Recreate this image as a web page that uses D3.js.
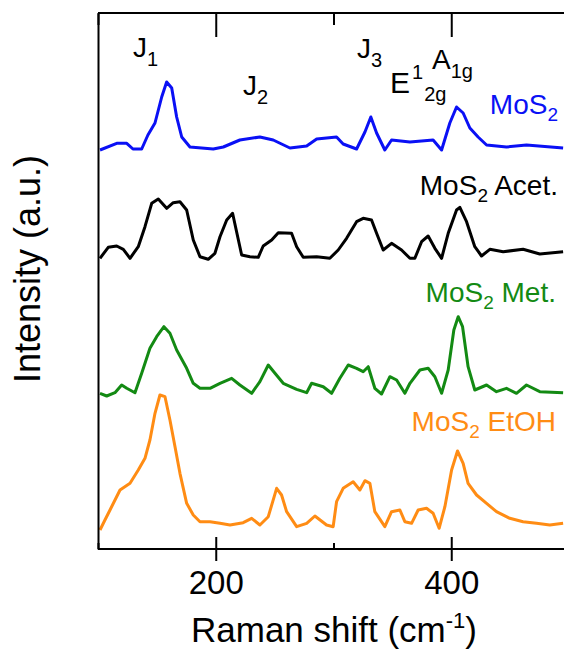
<!DOCTYPE html>
<html><head><meta charset="utf-8">
<script src="https://cdn.jsdelivr.net/npm/d3@7"></script>
<style>
html,body{margin:0;padding:0;background:#fff;}
svg{display:block;font-family:"Liberation Sans",Arial,sans-serif;}
</style></head>
<body><svg id="c" width="564" height="649"></svg>
<script>
// Raman shift (cm^-1) and intensity (a.u.) per sample
const mos2Shift=[101.7,115.9,124.4,129.7,137.1,142.4,148.4,154.1,158.3,162.6,166.8,171.1,178.1,197.9,206.4,220.5,237.5,248.8,263.0,277.2,285.7,302.6,308.2,319.6,326.7,331.7,336.6,343.6,349.3,364.9,384.6,391.8,398.8,404.5,410.1,415.8,422.8,430.0,446.9,463.9,495.0];
const mos2Int=[-1,5.7,5.7,0,0,14,26,52,67,61,32,12,2,0,2,9,12,9,1,3,10,12,5,0,17,32,16,-1,9,7,9,-1,26,42,36,21,12,4,2,4,1];
const acetShift=[101.7,108.7,115.9,121.5,127.2,134.2,139.9,145.6,151.2,158.3,163.9,169.6,175.3,180.9,186.6,193.6,199.3,203.6,209.3,214.3,217.7,222.0,229.0,236.1,240.3,247.5,253.1,264.4,268.7,274.3,285.7,296.9,304.0,311.1,319.6,325.2,332.3,336.6,342.2,349.3,357.8,364.9,369.1,374.8,380.4,386.1,391.8,397.4,404.5,407.3,413.0,420.0,425.7,432.8,444.1,461.0,475.2,495.0];
const acetInt=[0.7,11.7,13,9.7,0.7,12.3,32.3,55.7,60,50.7,56.3,57.3,49,19,2.3,-0.3,5.7,22.3,39,45.7,27.3,4,2.3,1.7,13,19,26.3,25.7,12.3,1.7,2.3,0.7,9,20.7,37.3,40.7,39,25.7,9,15.7,9,0.7,0.7,17.3,23,10.7,0.7,25.7,49,51.7,37.3,12.3,3,9.7,7.3,9.7,5,7.3];
const metShift=[101.7,107.4,114.4,120.1,124.4,131.4,137.1,144.1,149.8,156.0,161.1,166.8,175.3,180.9,186.6,195.1,203.6,213.5,220.5,230.5,237.5,244.6,250.3,257.3,268.7,277.2,281.4,291.3,298.4,305.4,312.5,319.6,325.2,329.5,335.1,340.8,347.9,353.6,360.6,364.9,373.4,380.4,386.1,391.8,397.4,402.2,405.9,409.6,414.3,420.0,430.0,438.4,446.9,455.4,463.9,475.2,495.0];
const metInt=[0.7,-2,1.3,9,5.7,1.3,20.7,45.7,57.3,67.3,60.7,44,25.7,10.7,5.7,5.7,10.7,15.7,9,0.7,12.3,29,20.7,10.7,4.7,1.3,10.7,7.3,0.7,15.7,29,25.7,22.3,27.3,5.7,0,17.3,14,0.7,10.7,24,25.7,17.3,0.7,24,64,77.3,67.3,27.3,4,9,2.3,5.7,0.7,9,2.3,1.3];
const etohShift=[101.7,105.9,110.2,118.7,127.2,134.2,139.9,144.1,148.4,152.6,156.9,161.1,165.4,169.6,175.3,180.9,186.6,195.1,203.6,212.1,223.3,230.5,237.5,244.6,251.7,255.9,260.2,268.7,277.2,284.2,294.1,299.7,302.6,308.2,316.7,322.4,326.7,330.9,335.1,343.6,349.3,356.4,360.6,366.3,371.9,379.0,384.6,389.7,394.6,400.3,405.3,410.1,414.3,421.5,430.0,438.4,449.7,461.0,472.4,483.7,495.0];
const etohInt=[-3,7,17,37,43.7,57,68.7,87,113.7,132,130.3,107,80.3,53.7,23.7,12,5.3,5.3,3.7,2,4.3,8.7,2,10.3,38.7,32,15.3,0.3,3.7,11,2,0.3,25.3,38.7,45.3,37,46.3,43.7,15.3,0.3,15.3,17,5.3,3.7,17,18.7,13.7,-1.3,20.3,57,76,63.7,43.7,32,23.7,15.3,8.7,5.3,3.7,2,3.7];

const seriesNames=["MoS2","MoS2 Acet.","MoS2 Met.","MoS2 EtOH"];
const seriesColors=["#0a10f5","#000000","#138a13","#ff8c14"];
const offsets=[400,290,155,22];
const majorTicks=[200,400];
const minorTicks=[100,300,500];

(function(){
const W=564;
const pL=98,pT=13,pB=549,pR=569;
const svg=d3.select("#c");
const x=d3.scaleLinear().domain([100,500]).range([pL,pR]);
const y=d3.scaleLinear().domain([0,536]).range([pB,pT]);

const series=[
  {s:mos2Shift,v:mos2Int},{s:acetShift,v:acetInt},{s:metShift,v:metInt},{s:etohShift,v:etohInt}
];
const line=d3.line().x(d=>x(d[0])).y(d=>y(d[1]));
series.forEach((sr,i)=>{
  const pts=sr.s.map((s,k)=>[s,sr.v[k]+offsets[i]]);
  svg.append("path").attr("d",line(pts)).attr("fill","none")
    .attr("stroke",seriesColors[i]).attr("stroke-width",3).attr("stroke-linejoin","round");
});

// axes
const gb=svg.append("g").attr("transform",`translate(0,${pB})`)
  .call(d3.axisBottom(x).tickValues(majorTicks).tickSize(12).tickPadding(10).tickFormat(d=>d));
const gbi=svg.append("g").attr("transform",`translate(0,${pB})`)
  .call(d3.axisTop(x).tickValues(majorTicks).tickSize(12).tickFormat(""));
const gbm=svg.append("g").attr("transform",`translate(0,${pB})`)
  .call(d3.axisTop(x).tickValues(minorTicks).tickSize(6).tickFormat(""));
const gt=svg.append("g").attr("transform",`translate(0,${pT})`)
  .call(d3.axisBottom(x).tickValues(majorTicks).tickSize(24).tickFormat(""));
const gtm=svg.append("g").attr("transform",`translate(0,${pT})`)
  .call(d3.axisBottom(x).tickValues(minorTicks).tickSize(12).tickFormat(""));
const gl=svg.append("g").attr("transform",`translate(${pL},0)`)
  .call(d3.axisLeft(y).tickValues([]).tickSizeOuter(0));
[gb,gbi,gbm,gt,gtm,gl].forEach(g=>{
  g.selectAll("path,line").attr("stroke","#000").attr("stroke-width",2);
});
[gbi,gbm,gt,gtm].forEach(g=>g.select(".domain").remove());
gt.append("line").attr("x1",pL).attr("x2",W).attr("y1",0).attr("y2",0).attr("stroke","#000").attr("stroke-width",2);
gb.select(".domain").attr("d",`M${pL},0H${W}`);
gb.selectAll("text").attr("font-size",33).attr("fill","#000").attr("font-family","Liberation Sans, Arial, sans-serif");

// axis titles
const xt=svg.append("text").attr("x",334).attr("y",642).attr("text-anchor","middle").attr("font-size",35).attr("fill","#000");
xt.append("tspan").text("Raman shift (cm");
xt.append("tspan").attr("font-size",22).attr("dy",-14).text("-1");
xt.append("tspan").attr("dy",14).text(")");
svg.append("text").attr("transform","translate(40,269) rotate(-90)").attr("text-anchor","middle")
  .attr("font-size",36).attr("fill","#000").text("Intensity (a.u.)");

// series labels
const labelPos=[[558,114],[558,195],[556,302],[556,431]];
seriesNames.forEach((n,i)=>{
  const t=svg.append("text").attr("x",labelPos[i][0]).attr("y",labelPos[i][1]).attr("text-anchor","end")
    .attr("font-size",28).attr("fill",seriesColors[i]);
  const parts=n.split("2");
  t.append("tspan").text(parts[0]);
  t.append("tspan").attr("font-size",19).attr("dy",7).text("2");
  if(parts[1]) t.append("tspan").attr("dy",-7).text(parts[1]);
});

// peak annotations
const peakLabels=[["J","1",133,57],["J","2",243,95],["J","3",357,58],["A","1g",432,69]];
peakLabels.forEach(p=>{
  const t=svg.append("text").attr("x",p[2]).attr("y",p[3]).attr("font-size",28).attr("fill","#000");
  t.append("tspan").text(p[0]);
  t.append("tspan").attr("font-size",20).attr("dy",9).text(p[1]);
});
const e=svg.append("text").attr("x",390).attr("y",93).attr("font-size",30).attr("fill","#000");
e.append("tspan").text("E");
e.append("tspan").attr("font-size",20).attr("dx",2).attr("dy",-14).text("1");
e.append("tspan").attr("font-size",20).attr("dx",1).attr("dy",22).text("2g");
})();
</script></body></html>
